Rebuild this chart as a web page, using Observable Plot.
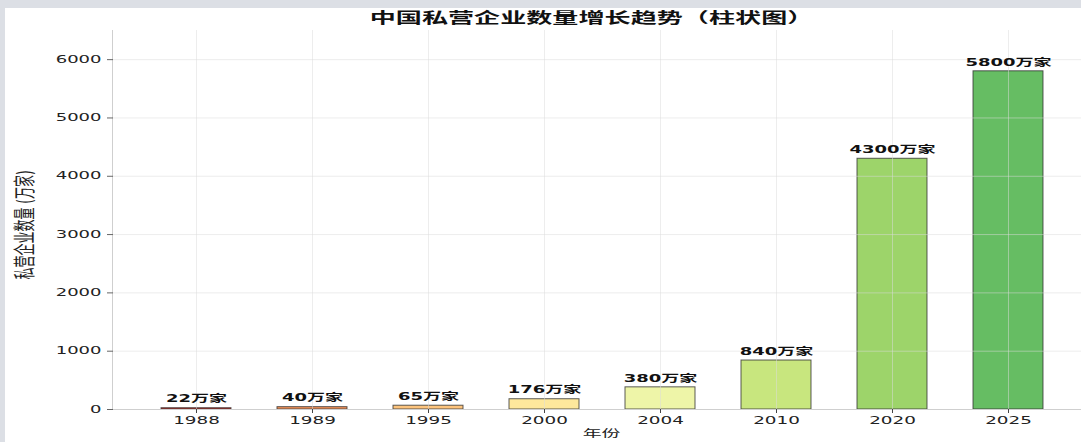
<!DOCTYPE html>
<html><head><meta charset="utf-8">
<script src="https://cdn.jsdelivr.net/npm/d3@7"></script>
<script src="https://cdn.jsdelivr.net/npm/@observablehq/plot@0.6"></script>
<style>
html,body{margin:0;padding:0;width:1081px;height:442px;overflow:hidden;background:#dcdfe5;}
#panel{position:absolute;left:5px;top:8px;right:0;bottom:0;background:#fff;}
#chart{position:absolute;left:0;top:0;width:1081px;height:442px;}
</style></head><body>
<div id="panel"></div><div id="chart"></div>
<script>
// ---- data ----
const years = ["1988","1989","1995","2000","2004","2010","2020","2025"];
const counts = [22, 40, 65, 176, 380, 840, 4300, 5800];
const unit = "万家";
const yTicks = [0, 1000, 2000, 3000, 4000, 5000, 6000];
const titleText = "中国私营企业数量增长趋势（柱状图）";
const xTitle = "年份";
const yTitle = "私营企业数量 (万家)";
// ---- styles ----
const barColors = ["#d73027","#f5945a","#fdc47d","#fee89c","#eef5a8","#c8e67e","#9dd46a","#66bd63"];
const S = 1.8; // horizontal text stretch seen in the reference
const font = "'DejaVu Sans','Noto Sans CJK SC',sans-serif";

const rows = years.map((y, i) => ({year: y, count: counts[i], label: counts[i] + unit, color: barColors[i]}));

const leftSpine = (index, scales, values, dims) =>
  d3.create("svg:line")
    .attr("x1", dims.marginLeft - 0.5).attr("x2", dims.marginLeft - 0.5)
    .attr("y1", dims.marginTop).attr("y2", dims.height - dims.marginBottom)
    .attr("stroke", "#cfcfcf").node();

const chart = Plot.plot({
  width: 1081, height: 442,
  marginTop: 30, marginBottom: 33, marginLeft: 113, marginRight: 0,
  style: {background: "transparent", fontFamily: font, color: "#222"},
  x: {type: "band", domain: years, range: [114, 1089.5], paddingInner: 0.4, paddingOuter: 0.38, label: null},
  y: {domain: [0, 6500], label: null},
  color: {type: "identity"},
  marks: [
    Plot.barY(rows, {x: "year", y: "count", fill: "color", stroke: "#333", strokeOpacity: 0.8, strokeWidth: 1}),
    Plot.gridY(yTicks, {stroke: "#dcdcdc", strokeOpacity: 0.5}),
    Plot.gridX(years, {stroke: "#dcdcdc", strokeOpacity: 0.5}),
    Plot.ruleY([0], {stroke: "#cfcfcf"}),
    leftSpine,
    Plot.axisY(yTicks, {tickSize: 6, tickPadding: 6, fontSize: 10, stroke: "#666", label: null, tickFormat: d => String(d)}),
    Plot.axisX(years, {tickSize: 4, tickPadding: 3, fontSize: 10.2, stroke: "#444", label: null}),
    Plot.text(rows, {x: "year", y: "count", text: "label", dy: -9, fontWeight: "bold", fontSize: 10, fill: "#111"}),
    Plot.text([titleText], {frameAnchor: "top", lineAnchor: "middle", textAnchor: "middle", dy: -12, dx: -6, text: d => d, fontWeight: "bold", fontSize: 14.5, fill: "#111"}),
    Plot.text([xTitle], {frameAnchor: "bottom", lineAnchor: "middle", textAnchor: "middle", dy: 24, dx: 4, text: d => d, fontSize: 10.5, fill: "#222"}),
    Plot.text([yTitle], {frameAnchor: "left", lineAnchor: "middle", textAnchor: "middle", dx: -85, dy: 5, rotate: -90, text: d => d, fontSize: 12, fill: "#222"})
  ]
});

// stretch all text horizontally like the reference image
const isNum = v => v !== null && /^-?[\d.]+$/.test(v.trim());
chart.querySelectorAll("text").forEach(t => {
  let tr = t.getAttribute("transform") || "";
  const x = t.getAttribute("x"), y = t.getAttribute("y");
  const mx = isNum(x) ? +x : 0, my = isNum(y) ? +y : 0;
  if (isNum(x)) t.removeAttribute("x");
  if (isNum(y)) t.removeAttribute("y");
  if (mx || my) tr += ` translate(${mx},${my})`;
  const rot = /rotate\(\s*-?90/.test(tr);
  if (rot && y && /em$/.test(y.trim())) t.setAttribute("y", (parseFloat(y) / S) + "em");
  t.setAttribute("transform", tr + (rot ? ` scale(1,${S})` : ` scale(${S},1)`));
});

document.getElementById("chart").appendChild(chart);
</script>
</body></html>
